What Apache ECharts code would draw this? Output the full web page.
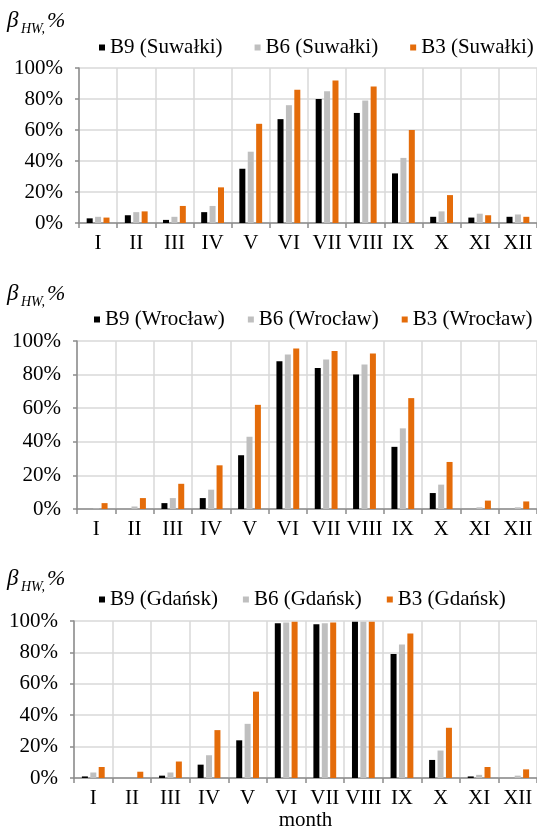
<!DOCTYPE html>
<html><head><meta charset="utf-8">
<script src="https://cdn.jsdelivr.net/npm/echarts@6/dist/echarts.min.js"></script>
<style>html,body{margin:0;padding:0;background:#fff}#c{width:537px;height:830px}</style>
</head><body><div id="c"></div>
<script>
const months = ['I','II','III','IV','V','VI','VII','VIII','IX','X','XI','XII'];
const yTicks = [0,20,40,60,80,100];
const cities = ['Suwałki','Wrocław','Gdańsk'];
const seriesNames = ['B9','B6','B3'];
// Suwałki
const suwB9 = [3,5,2,7,35,67,80,71,32,4,3.5,4];
const suwB6 = [4,7,4,11,46,76,85,79,42,7.5,6,5.5];
const suwB3 = [3.5,7.5,11,23,64,86,92,88,60,18,5,4];
// Wrocław
const wroB9 = [0,0,3.5,6.5,32,88,84,80,37,9.5,0,0];
const wroB6 = [0.3,1.5,6.5,11.5,43,92,89,86,48,14.5,1,1];
const wroB3 = [3.5,6.5,15,26,62,95.5,94,92.5,66,28,5,4.5];
// Gdańsk
const gdaB9 = [1,0,1.5,8.5,24,98.5,98,99.5,79,11.5,1,0];
const gdaB6 = [3.5,0,3.5,14.5,34.5,99,98.5,99.5,85,17.5,2,1.5];
const gdaB3 = [7,4,10.5,30.5,55,99.5,99,99.5,92,32,7,5.5];

const panelData = [[suwB9,suwB6,suwB3],[wroB9,wroB6,wroB3],[gdaB9,gdaB6,gdaB3]];
const colors = ['#000000','#BFBFBF','#E46C0A'];
const FONT = 'Times New Roman, Liberation Serif, serif';

const grids = [
  {left:79, right:0, top:68, bottom:607, outerBoundsMode:'none'},
  {left:77, right:0, top:341, bottom:321, outerBoundsMode:'none'},
  {left:74, right:0, top:621, bottom:52, outerBoundsMode:'none'}
];
const legendTops = [37, 309, 589];
const legendLefts = [99, 94, 99];
const legendGaps = [32, 23, 25];
const titleTops = [9, 282, 567];

const chart = echarts.init(document.getElementById('c'));
const xAxes = [], yAxes = [], series = [], legends = [], graphics = [];
for (let p = 0; p < 3; p++) {
  xAxes.push({
    gridIndex:p, type:'category', data:months,
    axisLine:{lineStyle:{color:'#8C8C8C',width:1.5}},
    axisTick:{show:true,length:5,lineStyle:{color:'#8C8C8C',width:1.5}},
    splitLine:{show:true,interval:0,lineStyle:{color:'#D9D9D9',width:1.5}},
    axisLabel:{fontFamily:FONT,fontSize:21,color:'#000',margin:10,interval:0},
    name: p===2 ? 'month' : '', nameLocation:'middle', nameGap:32,
    nameTextStyle:{fontFamily:FONT,fontSize:21,color:'#000'}
  });
  yAxes.push({
    gridIndex:p, type:'value', min:0, max:100, interval:20,
    axisLine:{show:true,lineStyle:{color:'#8C8C8C',width:1.5}},
    axisTick:{show:true,length:4,lineStyle:{color:'#8C8C8C',width:1.5}},
    splitLine:{show:true,lineStyle:{color:'#D9D9D9',width:1.5}},
    axisLabel:{fontFamily:FONT,fontSize:21,color:'#000',margin:16,formatter:'{value}%'}
  });
  const names = [];
  for (let s = 0; s < 3; s++) {
    const nm = seriesNames[s] + ' (' + cities[p] + ')';
    names.push(nm);
    series.push({
      name:nm, type:'bar', xAxisIndex:p, yAxisIndex:p,
      data:panelData[p][s], barWidth:6, barGap:'40%',
      itemStyle:{color:colors[s]}
    });
  }
  legends.push({
    data:names, top:legendTops[p], left:legendLefts[p], width:600, padding:0,
    icon:'rect', itemWidth:6, itemHeight:6, itemGap:legendGaps[p],
    textStyle:{fontFamily:FONT,fontSize:21,color:'#000'}
  });
  const ty = titleTops[p];
  graphics.push(
    {type:'text', left:7, top:ty, style:{text:'β', font:'italic 23px Times New Roman, Liberation Serif, serif', fill:'#000'}},
    {type:'text', left:21, top:ty+13, style:{text:'HW,', font:'italic 14px Times New Roman, Liberation Serif, serif', fill:'#000'}},
    {type:'text', left:47, top:ty+1, style:{text:'%', font:'italic 22px Times New Roman, Liberation Serif, serif', fill:'#000'}}
  );
}
chart.setOption({
  animation:false,
  grid:grids, xAxis:xAxes, yAxis:yAxes, series:series, legend:legends,
  graphic:graphics
});
</script></body></html>
